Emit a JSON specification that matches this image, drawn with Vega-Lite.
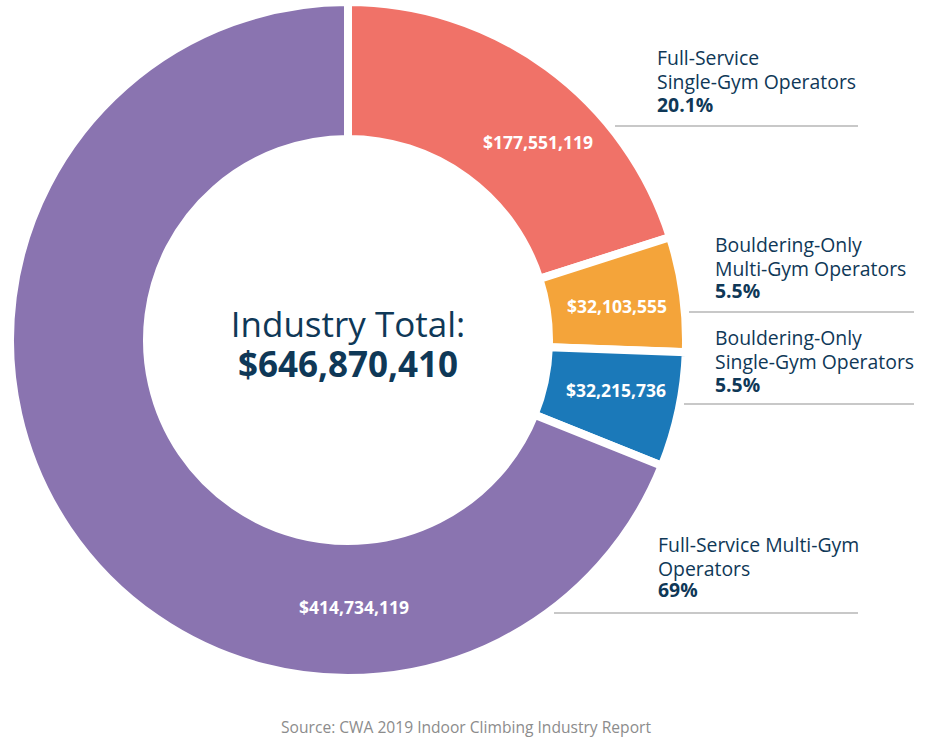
{
  "$schema": "https://vega.github.io/schema/vega-lite/v6.json",
  "width": 696,
  "height": 680,
  "autosize": {"type": "none"},
  "padding": {"left": 0, "top": 0, "right": 234, "bottom": 61},
  "background": "white",
  "config": {"view": {"stroke": null}, "font": "Open Sans"},
  "title": {
    "text": "Source: CWA 2019 Indoor Climbing Industry Report",
    "orient": "bottom",
    "anchor": "middle",
    "frame": "group",
    "baseline": "alphabetic",
    "offset": 39,
    "dx": 118,
    "font": "Open Sans",
    "fontSize": 15.6,
    "fontWeight": "normal",
    "color": "#8c8c8c"
  },
  "data": {
    "values": [
      {"order": 1, "segment": "Full-Service Single-Gym Operators", "name": "Full-Service\nSingle-Gym Operators", "share": 20.1, "pctLabel": "20.1%", "revenue": 177551119},
      {"order": 2, "segment": "Bouldering-Only Multi-Gym Operators", "name": "Bouldering-Only\nMulti-Gym Operators", "share": 5.5, "pctLabel": "5.5%", "revenue": 32103555},
      {"order": 3, "segment": "Bouldering-Only Single-Gym Operators", "name": "Bouldering-Only\nSingle-Gym Operators", "share": 5.5, "pctLabel": "5.5%", "revenue": 32215736},
      {"order": 4, "segment": "Full-Service Multi-Gym Operators", "name": "Full-Service Multi-Gym\nOperators", "share": 69, "pctLabel": "69%", "revenue": 414734119}
    ]
  },
  "layer": [
    {
      "mark": {"type": "arc", "outerRadius": 338, "innerRadius": 201, "stroke": "white", "strokeWidth": 8},
      "encoding": {
        "theta": {"field": "share", "type": "quantitative", "stack": true},
        "order": {"field": "order", "type": "quantitative"},
        "color": {
          "field": "segment",
          "type": "nominal",
          "legend": null,
          "scale": {
            "domain": ["Full-Service Single-Gym Operators", "Bouldering-Only Multi-Gym Operators", "Bouldering-Only Single-Gym Operators", "Full-Service Multi-Gym Operators"],
            "range": ["#f07268", "#f4a43a", "#1b79b9", "#8a74b0"]
          }
        }
      }
    },
    {
      "mark": {"type": "text", "font": "Open Sans", "fontWeight": "bold", "fontSize": 17.5, "color": "white", "align": "center", "baseline": "middle"},
      "encoding": {
        "x": {"field": "order", "type": "quantitative", "axis": null, "scale": {"type": "linear", "domain": [1, 2, 3, 4], "range": [538, 617, 616, 354], "zero": false, "nice": false}},
        "y": {"field": "order", "type": "quantitative", "axis": null, "scale": {"type": "linear", "domain": [1, 2, 3, 4], "range": [144, 308, 392, 609], "zero": false, "nice": false}},
        "text": {"field": "revenue", "type": "quantitative", "format": "$,.0f"}
      }
    },
    {
      "mark": {"type": "text", "font": "Open Sans", "fontSize": 19.4, "color": "#0f3857", "align": "left", "baseline": "alphabetic", "lineBreak": "\n", "lineHeight": 23.5},
      "encoding": {
        "x": {"field": "order", "type": "quantitative", "axis": null, "scale": {"type": "linear", "domain": [1, 2, 3, 4], "range": [657, 715, 715, 658], "zero": false, "nice": false}},
        "y": {"field": "order", "type": "quantitative", "axis": null, "scale": {"type": "linear", "domain": [1, 2, 3, 4], "range": [65, 252, 345, 552], "zero": false, "nice": false}},
        "text": {"field": "name", "type": "nominal"}
      }
    },
    {
      "mark": {"type": "text", "font": "Open Sans", "fontWeight": "bold", "fontSize": 19.4, "color": "#0f3857", "align": "left", "baseline": "alphabetic"},
      "encoding": {
        "x": {"field": "order", "type": "quantitative", "axis": null, "scale": {"type": "linear", "domain": [1, 2, 3, 4], "range": [657, 715, 715, 658], "zero": false, "nice": false}},
        "y": {"field": "order", "type": "quantitative", "axis": null, "scale": {"type": "linear", "domain": [1, 2, 3, 4], "range": [112, 298, 392, 597], "zero": false, "nice": false}},
        "text": {"field": "pctLabel", "type": "nominal"}
      }
    },
    {
      "transform": [{"filter": "datum.order == 1 || datum.order == 4"}],
      "mark": {"type": "rule", "color": "#c8c8c8", "strokeWidth": 2},
      "encoding": {
        "x": {"field": "order", "type": "quantitative", "axis": null, "scale": {"type": "linear", "domain": [0, 1, 2, 3, 4], "range": [858, 615, 689, 684, 554], "zero": false, "nice": false}},
        "x2": {"datum": 0},
        "y": {"field": "order", "type": "quantitative", "axis": null, "scale": {"type": "linear", "domain": [1, 2, 3, 4], "range": [126, 312, 404, 613], "zero": false, "nice": false}}
      }
    },
    {
      "transform": [{"filter": "datum.order == 2 || datum.order == 3"}],
      "mark": {"type": "rule", "color": "#c8c8c8", "strokeWidth": 2},
      "encoding": {
        "x": {"field": "order", "type": "quantitative", "axis": null, "scale": {"type": "linear", "domain": [0, 1, 2, 3, 4], "range": [914, 615, 689, 684, 554], "zero": false, "nice": false}},
        "x2": {"datum": 0},
        "y": {"field": "order", "type": "quantitative", "axis": null, "scale": {"type": "linear", "domain": [1, 2, 3, 4], "range": [126, 312, 404, 613], "zero": false, "nice": false}}
      }
    },
    {
      "data": {"values": [{"caption": "Industry Total:", "total": 646870410}]},
      "mark": {"type": "text", "font": "Open Sans", "fontSize": 35, "color": "#0f3857", "align": "center", "baseline": "alphabetic", "dy": -3},
      "encoding": {"text": {"field": "caption", "type": "nominal"}}
    },
    {
      "data": {"values": [{"caption": "Industry Total:", "total": 646870410}]},
      "mark": {"type": "text", "font": "Open Sans", "fontWeight": "bold", "fontSize": 35, "color": "#0f3857", "align": "center", "baseline": "alphabetic", "dy": 37},
      "encoding": {"text": {"field": "total", "type": "quantitative", "format": "$,.0f"}}
    }
  ],
  "resolve": {"scale": {"x": "independent", "y": "independent"}}
}
